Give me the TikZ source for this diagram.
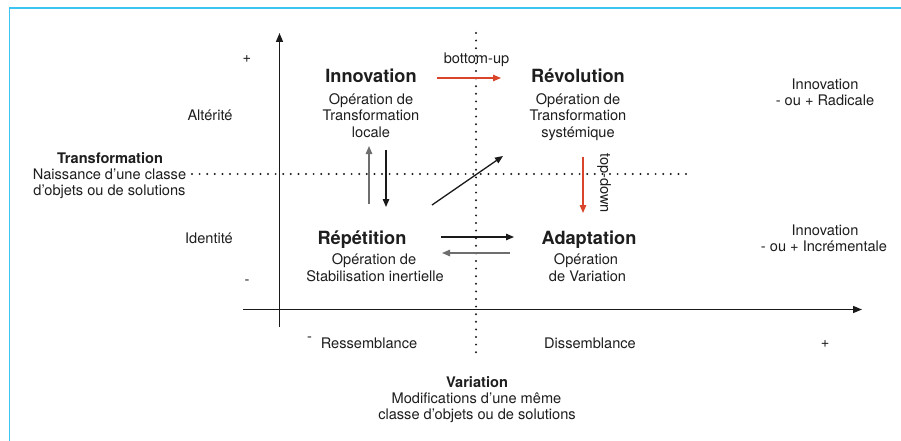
\documentclass[tikz,border=0pt]{standalone}
\usepackage{fontspec}
\setmainfont{TeX Gyre Heros}
\usetikzlibrary{arrows.meta}
\definecolor{frameblue}{HTML}{3DC4F2}
\definecolor{redarr}{HTML}{D9452B}
\definecolor{grayarr}{HTML}{6E6E6E}
\definecolor{txtc}{HTML}{1E1E1E}
\definecolor{axisc}{HTML}{1A1A1A}
\begin{document}
\begin{tikzpicture}[x=1pt,y=-1pt,
  txt/.style={font=\fontsize{14.6}{16.5}\selectfont, text=txtc, inner sep=0pt, anchor=base},
  ttl/.style={font=\fontsize{18.2}{20}\selectfont\bfseries, text=txtc, inner sep=0pt, anchor=base},
  sttl/.style={font=\fontsize{14.6}{16.5}\selectfont\bfseries, text=txtc, inner sep=0pt, anchor=base},
  axisline/.style={line width=1.5pt, draw=axisc, -{Triangle[length=9pt,width=7pt]}},
  dotline/.style={line width=2.2pt, line cap=round, dash pattern=on 0pt off 7.6pt, draw=axisc},
  arr/.style={line width=1.3pt, -{Triangle[length=8pt,width=6.5pt]}},
]
\useasboundingbox (0,0) rectangle (901,441);
\fill[white] (0,0) rectangle (901,441);
% frame
\draw[frameblue, line width=1.7pt, line join=miter] (9.5,441) -- (9.5,8) -- (901,8);

% coordinates
\coordinate (vaxB) at (279.5,327);
\coordinate (vaxT) at (279.5,33);
\coordinate (haxL) at (243,309.5);
\coordinate (haxR) at (862,309.5);
\coordinate (vdT) at (476,33);
\coordinate (vdB) at (476,358);
\coordinate (hdL) at (192,174);
\coordinate (hdR) at (690,174);

% dotted lines
\draw[dotline] (vdT) -- (vdB);
\draw[dotline] (hdL) -- (hdR);

% axes
\draw[axisline] (vaxB) -- (vaxT);
\draw[axisline] (haxL) -- (haxR);

% texts left
\node[txt] (plusU) at (247,63) {+};
\node[txt] (alt) at (210,121) {Altérité};
\node[txt] (ident) at (209,243) {Identité};
\node[txt] (minusL) at (247,284) {-};
\node[sttl] (trT) at (110,163) {Transformation};
\node[txt] (tr1) at (109.5,179) {Naissance d’une classe};
\node[txt] (tr2) at (109.5,195) {d’objets ou de solutions};

% Innovation
\node[ttl] (innT) at (371,83) {Innovation};
\node[txt] (inn1) at (371,105) {Opération de};
\node[txt] (inn2) at (371,121) {Transformation};
\node[txt] (inn3) at (371,137) {locale};

% Revolution
\node[ttl] (revT) at (578,83) {Révolution};
\node[txt] (rev1) at (578,105) {Opération de};
\node[txt] (rev2) at (578,121) {Transformation};
\node[txt] (rev3) at (578,137) {systémique};

% Radicale
\node[txt] (rad1) at (825,90) {Innovation};
\node[txt] (rad2) at (825,106) {- ou + Radicale};

% bottom-up
\node[txt] (bu) at (476.5,64) {bottom-up};
\coordinate (buL) at (437,78);
\coordinate (buR) at (501,78);
\draw[arr, redarr] (buL) -- (buR);

% Repetition
\node[ttl] (repT) at (362,244) {Répétition};
\node[txt] (rep1) at (374,264) {Opération de};
\node[txt] (rep2) at (375,281) {Stabilisation inertielle};

% Adaptation
\node[ttl] (adaT) at (589,244) {Adaptation};
\node[txt] (ada1) at (586,264) {Opération};
\node[txt] (ada2) at (587.5,281) {de Variation};

% Incrementale
\node[txt] (inc1) at (825,235) {Innovation};
\node[txt] (inc2) at (824,251) {- ou + Incrémentale};

% bottom labels
\node[txt] (mR) at (309.5,341) {-};
\node[txt] (ress) at (369,348) {Ressemblance};
\node[txt] (diss) at (590,348) {Dissemblance};
\node[txt] (plusR) at (825,347) {+};
\node[sttl] (varT) at (477,387) {Variation};
\node[txt] (var1) at (476.5,403) {Modifications d’une même};
\node[txt] (var2) at (477,419) {classe d’objets ou de solutions};

% top-down
\node[txt, rotate=-90, anchor=center] (td) at (604,183) {top-down};
\coordinate (tdT) at (583,157);
\coordinate (tdB) at (583,213);
\draw[arr, redarr] (tdT) -- (tdB);

% vertical arrows between Innovation and Repetition
\coordinate (upB) at (369,204);
\coordinate (upT) at (369,146);
\draw[arr, grayarr] (upB) -- (upT);
\coordinate (dnT) at (386,150);
\coordinate (dnB) at (386,207);
\draw[arr, axisc] (dnT) -- (dnB);

% diagonal arrow
\coordinate (dgA) at (432,205);
\coordinate (dgB) at (503,156);
\draw[arr, axisc] (dgA) -- (dgB);

% horizontal arrows between Repetition and Adaptation
\coordinate (raL) at (441,237);
\coordinate (raR) at (514,237);
\draw[arr, axisc] (raL) -- (raR);
\coordinate (laR) at (510,253);
\coordinate (laL) at (442,253);
\draw[arr, grayarr] (laR) -- (laL);
\end{tikzpicture}
\end{document}
